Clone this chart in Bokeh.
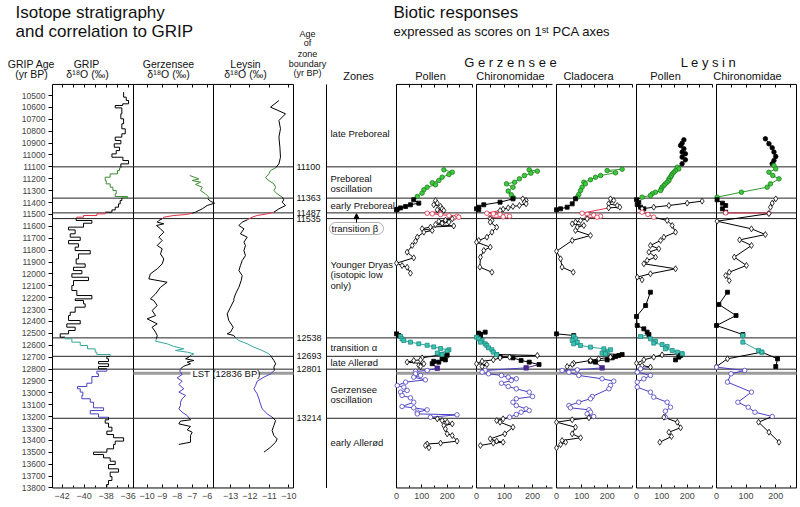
from bokeh.plotting import figure
from bokeh.models import (Range1d, LinearAxis, FixedTicker, BoxAnnotation, Arrow,
                          NormalHead, BasicTickFormatter)
from bokeh.embed import file_html
from bokeh.resources import INLINE
from bokeh.core.properties import value

FONT = "Liberation Sans"

# ---------------------------------------------------------------- data
AGE_TICKS = list(range(10500, 13801, 100))
ZONE_BOUNDS = [11100, 11363, 11487, 11535, 12538, 12693, 12801, 13214]
LST_AGE = 12836
PANEL_TOP_AGE = 10407
PANEL_BOTTOM_AGE = 13800

ZONE_LABELS = ["late Preboreal", "Preboreal", "oscillation", "early Preboreal",
               "Younger Dryas", "(isotopic low", " only)", "transition \u03b1",
               "late Aller\u00f8d", "Gerzensee", "oscillation", "early Aller\u00f8d"]
ZONE_LABEL_AGES = [10817, 11200, 11284, 11427, 11921, 12008, 12098, 12616,
                   12747, 12972, 13058, 13415]
BETA_LABEL = "transition \u03b2"
BETA_AGE = 11616

GRIP_XLIM = (-42.88, -35.52)
GERZ_XLIM = (-10.91, -5.58)
LEYS_XLIM = (-13.875, -9.76)
GP_XLIM = (0, 300)
GC_XLIM = (0, 271)
CL_XLIM = (0, 300)
LP_XLIM = (0, 300)
LC_XLIM = (0, 270)

GRIP_AGE = [10472, 10514, 10542, 10570, 10584, 10604, 10654, 10696, 10738, 10780, 10822,
            10850, 10878, 10906, 10935, 10963, 10991, 11019, 11047, 11075, 11108, 11131,
            11159, 11187, 11215, 11243, 11271, 11299, 11327, 11349, 11361, 11383, 11411,
            11439, 11462, 11481, 11495, 11509, 11523, 11532, 11551, 11574, 11607, 11630,
            11663, 11691, 11719, 11747, 11775, 11804, 11832, 11874, 11916, 11944, 11972,
            11999, 12028, 12056, 12098, 12140, 12182, 12210, 12224, 12252, 12280, 12322,
            12350, 12392, 12420, 12448, 12476, 12504, 12532, 12546, 12574, 12602, 12630,
            12658, 12678, 12695, 12714, 12737, 12756, 12779, 12798, 12818, 12840, 12863,
            12891, 12919, 12947, 12966, 12994, 13022, 13050, 13079, 13107, 13126, 13149,
            13177, 13205, 13227, 13255, 13289, 13322, 13350, 13378, 13406, 13434, 13471,
            13499, 13519, 13547, 13575, 13603, 13639, 13667, 13704, 13737, 13771]
GRIP_D18O = [-36.42, -36.18, -35.97, -36.5, -37.18, -36.58, -36.67, -36.42, -36.58, -36.27,
             -36.58, -37.18, -36.67, -37.27, -36.79, -37.09, -37.48, -36.48, -35.97, -36.67,
             -36.79, -36.97, -37.64, -38.09, -38.0, -37.64, -37.39, -37.09, -37.18, -36.06,
             -36.58, -36.73, -36.88, -37.18, -37.48, -38.09, -38.85, -40.06, -40.67, -40.73,
             -39.3, -40.06, -41.42, -40.82, -41.27, -40.36, -41.42, -40.52, -40.82, -39.45,
             -40.52, -40.73, -39.91, -40.97, -40.21, -41.12, -39.61, -40.97, -41.12, -40.67,
             -39.3, -40.82, -40.06, -39.91, -40.82, -41.27, -41.42, -40.36, -41.58, -40.82,
             -41.42, -42.18, -41.73, -41.12, -40.36, -39.7, -39.0, -38.85, -37.64, -37.94,
             -37.79, -38.7, -37.79, -38.7, -37.94, -38.85, -38.7, -39.3, -39.3, -39.76,
             -40.61, -40.36, -40.12, -40.21, -39.45, -39.15, -39.15, -38.24, -39.45, -38.7,
             -37.79, -38.09, -37.79, -37.48, -37.94, -37.33, -36.42, -37.18, -37.33, -37.94,
             -39.15, -38.24, -37.64, -37.18, -37.79, -36.88, -37.64, -37.48, -37.79, -37.94]

GERZ_AGE = [11173, 11201, 11215, 11229, 11248, 11271, 11299, 11327, 11355, 11369, 11389,
            11405, 11425, 11453, 11481, 11490, 11501, 11509, 11523, 11537, 11551, 11565,
            11579, 11593, 11621, 11649, 11691, 11719, 11761, 11789, 11832, 11874, 11916,
            11958, 11999, 12042, 12070, 12112, 12168, 12210, 12224, 12266, 12308, 12350,
            12378, 12420, 12448, 12490, 12518, 12546, 12566, 12588, 12610, 12630, 12644,
            12658, 12672, 12686, 12700, 12714, 12728, 12742, 12756, 12776, 12798, 12818,
            12846, 12874, 12902, 12930, 12966, 12994, 13022, 13050, 13079, 13107, 13135,
            13163, 13191, 13210, 13227, 13238, 13261, 13283, 13311, 13331, 13359, 13387,
            13415, 13434]
GERZ_D18O = [-7.16, -6.56, -7.0, -6.44, -6.78, -6.33, -6.44, -6.11, -5.89, -5.96, -5.78,
             -5.51, -6.0, -6.33, -6.78, -7.0, -7.44, -8.22, -8.89, -9.0, -9.22, -9.33,
             -8.89, -9.38, -9.11, -8.89, -9.22, -9.0, -9.33, -9.0, -9.11, -8.89, -9.0,
             -9.33, -9.78, -9.89, -8.67, -9.11, -9.44, -9.78, -9.56, -9.33, -9.67, -9.44,
             -10.0, -9.33, -9.67, -9.44, -9.33, -9.38, -9.44, -8.67, -8.22, -7.56, -8.11,
             -7.33, -6.89, -7.11, -7.22, -7.44, -6.89, -7.33, -7.11, -7.56, -7.78, -7.82,
             -7.67, -8.0, -7.67, -7.89, -7.56, -7.89, -7.44, -7.67, -7.78, -7.78, -7.89,
             -7.67, -7.33, -7.22, -7.11, -7.78, -7.89, -7.11, -7.33, -7.0, -7.11, -7.11,
             -7.11, -7.89]

LEYS_AGE = [10542, 10598, 10654, 10710, 10780, 10850, 10935, 11019, 11075, 11108, 11131,
            11159, 11192, 11215, 11243, 11271, 11299, 11327, 11355, 11377, 11397, 11425,
            11453, 11481, 11495, 11509, 11523, 11546, 11565, 11593, 11621, 11663, 11691,
            11733, 11761, 11804, 11846, 11888, 11930, 11972, 12014, 12056, 12112, 12168,
            12210, 12224, 12280, 12336, 12392, 12448, 12490, 12504, 12518, 12538, 12560,
            12588, 12616, 12644, 12672, 12686, 12706, 12728, 12756, 12784, 12812, 12840,
            12868, 12902, 12938, 12966, 13008, 13050, 13093, 13135, 13177, 13205, 13233,
            13275, 13317, 13359, 13387, 13415, 13457, 13499]
LEYS_D18O = [-10.51, -10.94, -10.17, -10.51, -10.43, -10.51, -10.46, -10.43, -10.51, -10.68,
             -10.94, -11.03, -11.2, -11.03, -10.77, -10.68, -10.77, -10.6, -10.34, -10.26,
             -10.34, -10.17, -10.51, -10.77, -11.11, -11.63, -11.89, -12.14, -12.4, -12.57,
             -12.31, -12.49, -12.14, -12.31, -12.23, -12.31, -12.23, -12.4, -12.49, -12.57,
             -12.4, -12.45, -12.57, -12.74, -12.83, -12.83, -13.0, -13.17, -13.09, -12.86,
             -13.0, -13.17, -12.83, -12.74, -12.57, -12.14, -11.8, -11.37, -11.03, -10.94,
             -10.86, -10.77, -10.68, -10.77, -10.74, -10.94, -11.28, -11.63, -11.71, -11.8,
             -11.63, -11.54, -11.46, -11.37, -11.11, -10.86, -10.68, -10.77, -10.86, -10.77,
             -10.6, -10.68, -10.94, -11.28]

# Biotic PCA scores, (age, score) pairs per zone segment
GP_GREEN = [(11125, 187), (11145, 220), (11164, 207), (11187, 180), (11215, 167), (11234, 141),
            (11251, 154), (11271, 121), (11293, 108), (11321, 101), (11349, 82)]
GP_EPB = [(11377, 68), (11405, 88), (11419, 55), (11433, 36), (11445, 16), (11456, 3), (11461, 0)]
GP_EPO = [(11383, 154), (11405, 161), (11419, 147), (11433, 174), (11453, 180), (11461, 161), (11467, 187)]
GP_RED = [(11490, 121), (11495, 141), (11501, 174), (11509, 207), (11515, 239), (11523, 246), (11529, 226)]
GP_YD = [(11537, 220), (11548, 193), (11557, 167), (11565, 207), (11575, 180), (11585, 154),
         (11597, 226), (11607, 134), (11620, 101), (11635, 141), (11649, 108), (11691, 82),
         (11725, 75), (11761, 62), (11817, 42), (11865, 68), (11910, 0), (11930, 22),
         (11944, 42), (11994, 55)]
GP_YA = [(12504, 0), (12518, 9)]
GP_TEAL = [(12526, 16), (12546, 22), (12560, 29), (12574, 55), (12588, 88), (12600, 121),
           (12614, 147), (12627, 174), (12638, 207), (12650, 200), (12666, 161), (12678, 180)]
GP_LAF = [(12684, 200), (12697, 187), (12714, 180), (12723, 193), (12735, 147), (12742, 167), (12755, 141)]
GP_LAO = [(12706, 101), (12723, 95), (12728, 68), (12742, 42), (12756, 108), (12770, 88), (12779, 95)]
GP_PUR = [(12793, 161)]
GP_BLUE = [(12812, 121), (12820, 75), (12840, 75), (12854, 95), (12868, 68), (12891, 114),
           (12910, 36), (12938, 3), (12952, 29), (12980, 42), (12994, 16), (13022, 22),
           (13042, 55), (13079, 68), (13115, 22), (13126, 68), (13143, 121), (13163, 82),
           (13177, 82), (13185, 239), (13205, 134)]
GP_EA = [(13219, 161), (13233, 180), (13247, 200), (13261, 220), (13275, 187), (13303, 193),
         (13345, 200), (13359, 220), (13406, 239), (13423, 174), (13430, 121), (13443, 114), (13462, 128)]

GC_GREEN = [(11125, 188), (11136, 217), (11153, 194), (11173, 171), (11201, 153), (11229, 136),
            (11243, 107), (11271, 130), (11304, 113), (11335, 124), (11360, 132)]
GC_EPB = [(11369, 130), (11397, 84), (11419, 26), (11439, 8), (11453, 0), (11461, 8)]
GC_EPO = [(11369, 165), (11383, 177), (11397, 171), (11411, 177), (11425, 153), (11433, 130),
          (11445, 113), (11456, 95), (11467, 84)]
GC_RED = [(11490, 37), (11495, 60), (11501, 84), (11509, 107), (11515, 118), (11520, 95), (11527, 49)]
GC_YD = [(11537, 49), (11551, 55), (11565, 49), (11607, 72), (11649, 55), (11691, 37), (11719, 8),
         (11733, 0), (11775, 49), (11803, 26), (11859, 14), (11943, 12), (11986, 55)]
GC_YA = [(12490, 31), (12498, 8), (12510, 14), (12518, 14)]
GC_TEAL = [(12532, 0), (12546, 8), (12560, 20), (12574, 14), (12588, 31), (12602, 37), (12622, 43),
           (12638, 55), (12658, 60), (12678, 72)]
GC_LAF = [(12695, 84), (12706, 130), (12728, 159), (12742, 188), (12762, 223)]
GC_LAO = [(12686, 217), (12700, 118), (12706, 84), (12723, 60), (12734, 20), (12756, 0), (12762, 37), (12779, 20)]
GC_PUR = [(12790, 177)]
GC_BLUE = [(12812, 31), (12826, 20), (12840, 43), (12854, 89), (12868, 113), (12882, 142),
           (12896, 124), (12919, 89), (12947, 113), (12966, 142), (12994, 188), (13031, 200),
           (13050, 142), (13079, 130), (13107, 142), (13135, 177), (13149, 188), (13163, 159),
           (13182, 142), (13205, 118)]
GC_EA = [(13219, 95), (13233, 72), (13247, 84), (13289, 130), (13345, 101), (13387, 49),
         (13406, 72), (13415, 95), (13423, 60), (13443, 14)]

CL_GREEN = [(11120, 259), (11131, 200), (11150, 233), (11173, 174), (11187, 154), (11209, 134),
            (11229, 108), (11243, 114), (11271, 101), (11299, 95), (11332, 88), (11355, 82)]
CL_EPB = [(11369, 75), (11411, 62), (11439, 42), (11453, 16), (11461, 0)]
CL_EPO = [(11369, 213), (11383, 226), (11411, 206), (11425, 240), (11439, 250), (11445, 206)]
CL_RED = [(11490, 101), (11498, 121), (11506, 147), (11515, 174), (11523, 160), (11530, 121)]
CL_YD = [(11537, 121), (11551, 95), (11565, 75), (11579, 62), (11593, 108), (11607, 82),
         (11635, 75), (11677, 134), (11719, 62), (11809, 0), (11873, 16), (11943, 22), (11986, 66)]
CL_YA = [(12504, 0), (12518, 68)]
CL_TEAL = [(12526, 68), (12546, 75), (12560, 62), (12574, 82), (12588, 68), (12602, 95),
           (12616, 134), (12630, 187), (12638, 213), (12658, 200), (12666, 180), (12672, 193)]
CL_LAF = [(12678, 259), (12686, 246), (12695, 233), (12706, 220), (12723, 200), (12734, 134), (12742, 154)]
CL_LAO = [(12700, 213), (12714, 167), (12728, 134), (12751, 68), (12762, 62), (12779, 42)]
CL_PUR = [(12790, 180)]
CL_BLUE = [(12807, 82), (12812, 22), (12826, 49), (12854, 88), (12882, 180), (12902, 226),
           (12938, 213), (12966, 207), (13031, 141), (13050, 134), (13079, 88), (13107, 49),
           (13126, 55), (13143, 128), (13163, 134), (13177, 121), (13199, 147)]
CL_EA = [(13210, 128), (13227, 62), (13247, 0), (13289, 75), (13345, 62), (13378, 95),
         (13401, 22), (13415, 36), (13435, 16), (13463, 0)]

LP_LPB = [(10873, 187), (10901, 180), (10920, 174), (10948, 187), (10976, 180), (10990, 193),
          (11018, 180), (11041, 193), (11074, 180)]
LP_GREEN = [(11103, 161), (11117, 167), (11131, 154), (11145, 147), (11159, 141), (11173, 138),
            (11187, 134), (11201, 128), (11215, 128), (11229, 121), (11243, 114), (11257, 108),
            (11271, 101), (11285, 98), (11299, 95), (11313, 75), (11327, 62), (11341, 55), (11355, 22)]
LP_EPB = [(11377, 0), (11397, 9), (11417, 3), (11439, 16), (11453, 29)]
LP_EPO = [(11388, 259), (11405, 200), (11425, 128), (11439, 68), (11453, 22)]
LP_RED = [(11481, 22), (11500, 45), (11523, 68)]
LP_YD = [(11551, 121), (11593, 141), (11649, 154), (11691, 108), (11719, 95), (11761, 55),
         (11789, 88), (11817, 49), (11859, 75), (11887, 42), (11915, 29), (11957, 154),
         (11999, 55), (12027, 3), (12050, 22)]
LP_LYD = [(12154, 55), (12266, 36), (12358, 0), (12434, 3), (12462, 29), (12490, 42), (12510, 49)]
LP_TEAL = [(12526, 16), (12546, 55), (12566, 75), (12582, 68), (12594, 101), (12610, 121),
           (12630, 114), (12644, 141), (12658, 161), (12672, 180)]
LP_LAF = [(12686, 174), (12700, 167), (12723, 154)]
LP_LAO = [(12681, 101), (12700, 68), (12723, 29), (12751, 0), (12770, 22), (12784, 55)]
LP_BLUE = [(12798, 16), (12826, 3), (12854, 55), (12882, 29), (12910, 3), (12952, 3), (12994, 55),
           (13036, 68), (13079, 121), (13121, 134), (13154, 114), (13205, 114)]
LP_EA = [(13205, 108), (13247, 161), (13294, 174), (13331, 128), (13367, 138), (13415, 92)]

LC_LPB = [(10864, 165), (10906, 177), (10940, 188), (10976, 194), (11013, 200), (11046, 194), (11074, 188)]
LC_GREEN = [(11089, 194), (11117, 200), (11145, 177), (11173, 190), (11201, 211), (11243, 182),
            (11271, 171), (11313, 84), (11355, 2)]
LC_EPB = [(11377, 2), (11405, 20), (11425, 31), (11453, 20), (11481, 31)]
LC_EPO = [(11369, 200), (11405, 188), (11439, 182)]
LC_RED = [(11487, 31), (11489, 177)]
LC_YD = [(11493, 177), (11557, 2), (11621, 118), (11669, 165), (11714, 78), (11761, 118),
         (11859, 60), (11929, 101), (11986, 43), (12014, 31), (12056, 43)]
LC_LYD = [(12154, 37), (12257, 8), (12350, 66), (12434, 0), (12510, 89)]
LC_TEAL = [(12518, 89), (12574, 89), (12644, 142), (12658, 153)]
LC_LAF = [(12714, 206), (12779, 200)]
LC_LAO = [(12714, 37), (12779, 0)]
LC_BLUE = [(12784, 0), (12812, 95), (12840, 49), (12910, 37), (12994, 118), (13079, 72),
           (13121, 107), (13163, 130), (13199, 188)]
LC_EA = [(13247, 142), (13331, 177), (13415, 211)]

# ---------------------------------------------------------------- styles / layout
GREEN_L, RED_L, TEAL_L, BLUE_L = "#3c8c34", "#e0304a", "#35a89c", "#4a40c4"
STY = {
    "green": dict(line="#2f9a2f", marker="circle", size=4.5, fill="#3ccc3c", edge="#1f7a1f"),
    "blk": dict(line="black", marker="square", size=4, fill="black", edge="black"),
    "blkc": dict(line="black", marker="circle", size=4.5, fill="black", edge="black"),
    "open": dict(line="black", marker="diamond", size=6, fill="white", edge="black"),
    "red": dict(line=RED_L, marker="circle", size=4.5, fill="white", edge=RED_L),
    "teal": dict(line=TEAL_L, marker="square", size=4, fill="#3cc4b4", edge="#1f8a80"),
    "blue": dict(line=BLUE_L, marker="circle", size=4.5, fill="white", edge=BLUE_L),
    "purple": dict(line="#4a2a90", marker="square", size=4.5, fill="#4a2a90", edge="#4a2a90"),
}

W, H = 800, 507
PX_PER_YR = 0.11893
Y_10500 = 95.0


def age_at(py):
    return 10500 + (py - Y_10500) / PX_PER_YR


X_LEFT, X_RIGHT = 0, W
PANEL_PX = {"grip": (52, 133), "gerz": (133, 213), "leys": (213, 293),
            "gp": (396, 472), "gc": (476, 552), "cl": (556, 632),
            "lp": (636, 712), "lc": (716, 796)}
XLIM = {"grip": GRIP_XLIM, "gerz": GERZ_XLIM, "leys": LEYS_XLIM, "gp": GP_XLIM,
        "gc": GC_XLIM, "cl": CL_XLIM, "lp": LP_XLIM, "lc": LC_XLIM}

p = figure(width=W, height=H, x_range=Range1d(X_LEFT, X_RIGHT),
           y_range=Range1d(age_at(H), age_at(0)),
           x_axis_type=None, y_axis_type=None, toolbar_location=None,
           output_backend="svg", min_border=0)
p.outline_line_color = None
p.background_fill_color = "white"
p.border_fill_color = "white"

xr = {}
for name, (px0, px1) in PANEL_PX.items():
    d0, d1 = XLIM[name]
    k = (d1 - d0) / (px1 - px0)
    xr[name] = Range1d(d0 + (X_LEFT - px0) * k, d0 + (X_RIGHT - px0) * k)
p.extra_x_ranges = xr
p.extra_y_ranges = {"px": Range1d(H, 0)}


def zone_color(a):
    if 11100 <= a < 11363:
        return GREEN_L
    if 11487 <= a < 11535:
        return RED_L
    if 12538 <= a < 12693:
        return TEAL_L
    if 12801 <= a < 13214:
        return BLUE_L
    return "black"


# ---- axes
age_axis = LinearAxis(fixed_location=52, ticker=FixedTicker(ticks=AGE_TICKS),
                      formatter=BasicTickFormatter(use_scientific=False),
                      axis_line_color=None, major_tick_out=4, major_tick_in=0,
                      minor_tick_out=0, minor_tick_in=0,
                      major_label_text_font=FONT, major_label_text_font_size="8.5px",
                      major_label_standoff=3)
p.add_layout(age_axis, "left")

AX_TICKS = {
    "grip": ([-42, -40, -38, -36], [-41, -39, -37]),
    "gerz": ([-10, -9, -8, -7, -6], []),
    "leys": ([-13, -12, -11, -10], []),
    "gp": ([0, 100, 200], [50, 150, 250, 300]),
    "gc": ([0, 100, 200], [50, 150, 250]),
    "cl": ([0, 100, 200], [50, 150, 250, 300]),
    "lp": ([0, 100, 200], [50, 150, 250, 300]),
    "lc": ([0, 100, 200], [50, 150, 250]),
}
for name, (major, minor) in AX_TICKS.items():
    b = LinearAxis(x_range_name=name, fixed_location=PANEL_BOTTOM_AGE,
                   ticker=FixedTicker(ticks=major, minor_ticks=minor),
                   axis_line_color=None, major_tick_in=3, major_tick_out=0,
                   minor_tick_in=2, minor_tick_out=0,
                   major_label_text_font=FONT, major_label_text_font_size="9px",
                   major_label_standoff=5)
    p.add_layout(b, "below")
    t = LinearAxis(x_range_name=name, fixed_location=PANEL_TOP_AGE,
                   ticker=FixedTicker(ticks=major, minor_ticks=minor),
                   axis_line_color=None, major_tick_in=3, major_tick_out=0,
                   minor_tick_in=3, minor_tick_out=0,
                   major_label_overrides={m: "" for m in major},
                   major_label_text_font_size="1px")
    p.add_layout(t, "above")

# ---- panel frames
for name in ["grip", "gerz", "leys"]:
    d0, d1 = XLIM[name]
    p.quad(left=[d0], right=[d1], top=[PANEL_TOP_AGE], bottom=[PANEL_BOTTOM_AGE],
           x_range_name=name, fill_color=None, line_color="black", line_width=1)
for name in ["gp", "gc", "cl", "lp", "lc"]:
    d0, d1 = XLIM[name]
    p.segment(x0=[d0, d0, d0], y0=[PANEL_TOP_AGE, PANEL_TOP_AGE, PANEL_BOTTOM_AGE],
              x1=[d0, d1, d1], y1=[PANEL_BOTTOM_AGE, PANEL_TOP_AGE, PANEL_BOTTOM_AGE],
              x_range_name=name, line_color="black", line_width=1)
p.segment(x0=[LC_XLIM[1]], y0=[PANEL_TOP_AGE], x1=[LC_XLIM[1]], y1=[PANEL_BOTTOM_AGE],
          x_range_name="lc", line_color="black", line_width=1)
# zones column separator
p.segment(x0=[326], y0=[PANEL_TOP_AGE], x1=[326], y1=[PANEL_BOTTOM_AGE],
          line_color="black", line_width=1)

# ---- zone boundary lines
n = len(ZONE_BOUNDS)
p.segment(x0=[52] * n, x1=[293] * n, y0=ZONE_BOUNDS, y1=ZONE_BOUNDS,
          line_color="#222222", line_width=1)
p.segment(x0=[326] * n, x1=[796] * n, y0=ZONE_BOUNDS, y1=ZONE_BOUNDS,
          line_color="#222222", line_width=1)
# LST ash layer
p.segment(x0=[133, 258, 396], x1=[190, 293, 796], y0=[LST_AGE] * 3, y1=[LST_AGE] * 3,
          line_color="#9c9c9c", line_width=3)
p.text(x=[192], y=[LST_AGE], text=["LST (12836 BP)"], text_font=value(FONT),
       text_font_size="9.5px", text_baseline="middle", text_align="left", text_color="#111111")

# ---- GRIP step curve
gx, gy, gc = [], [], []
ages_ext = GRIP_AGE + [GRIP_AGE[-1] + 20]
for i in range(len(GRIP_AGE)):
    a0, a1 = ages_ext[i], ages_ext[i + 1]
    v = GRIP_D18O[i]
    gx.append([v, v]); gy.append([a0, a1]); gc.append(zone_color((a0 + a1) / 2))
    if i + 1 < len(GRIP_AGE):
        gx.append([v, GRIP_D18O[i + 1]]); gy.append([a1, a1]); gc.append(zone_color(a1 - 1))
p.multi_line(xs=gx, ys=gy, line_color=gc, line_width=1, x_range_name="grip")


def zoned_line(ages, vals, rn):
    xs, ys, cs = [], [], []
    for i in range(len(ages) - 1):
        xs.append([vals[i], vals[i + 1]]); ys.append([ages[i], ages[i + 1]])
        cs.append(zone_color((ages[i] + ages[i + 1]) / 2))
    p.multi_line(xs=xs, ys=ys, line_color=cs, line_width=1, x_range_name=rn)


zoned_line(GERZ_AGE, GERZ_D18O, "gerz")
zoned_line(LEYS_AGE, LEYS_D18O, "leys")

# ---- biotic panels
CHAINS = {
    "gp": [[("green", GP_GREEN), ("blk", GP_EPB)], [("open", GP_EPO), ("red", GP_RED), ("open", GP_YD)],
           [("blk", GP_YA), ("teal", GP_TEAL), ("blk", GP_LAF), ("purple", GP_PUR), ("blue", GP_BLUE), ("open", GP_EA)],
           [("teal", GP_TEAL[-1:]), ("open", GP_LAO)]],
    "gc": [[("green", GC_GREEN), ("blk", GC_EPB)], [("open", GC_EPO), ("red", GC_RED), ("open", GC_YD)],
           [("blk", GC_YA), ("teal", GC_TEAL), ("blk", GC_LAF), ("purple", GC_PUR), ("blue", GC_BLUE), ("open", GC_EA)],
           [("teal", GC_TEAL[-1:]), ("open", GC_LAO)]],
    "cl": [[("green", CL_GREEN), ("blk", CL_EPB)], [("open", CL_EPO), ("red", CL_RED), ("open", CL_YD)],
           [("blk", CL_YA), ("teal", CL_TEAL), ("blk", CL_LAF), ("purple", CL_PUR), ("blue", CL_BLUE), ("open", CL_EA)],
           [("teal", CL_TEAL[-1:]), ("open", CL_LAO)]],
    "lp": [[("blkc", LP_LPB), ("green", LP_GREEN), ("blk", LP_EPB)], [("open", LP_EPO), ("red", LP_RED), ("open", LP_YD)],
           [("blk", LP_LYD), ("teal", LP_TEAL), ("blk", LP_LAF)],
           [("teal", LP_TEAL[-1:]), ("open", LP_LAO), ("blue", LP_BLUE), ("open", LP_EA)]],
    "lc": [[("blkc", LC_LPB), ("green", LC_GREEN), ("blk", LC_EPB), ("red", LC_RED), ("open", LC_YD)],
           [("open", LC_EPO)],
           [("blk", LC_LYD), ("teal", LC_TEAL), ("blk", LC_LAF)],
           [("teal", LC_TEAL[-1:]), ("open", LC_LAO), ("blue", LC_BLUE), ("open", LC_EA)]],
}

markers = []
for rn, chains in CHAINS.items():
    for chain in chains:
        prev = None
        for style, seg in chain:
            st = STY[style]
            a = [s[0] for s in seg]
            v = [s[1] for s in seg]
            if prev is not None:
                p.line(x=[prev[1], v[0]], y=[prev[0], a[0]], x_range_name=rn,
                       line_color=st["line"], line_width=1)
            if len(seg) > 1:
                p.line(x=v, y=a, x_range_name=rn, line_color=st["line"], line_width=1)
            prev = seg[-1]
            markers.append((rn, st, a, v))
for rn, st, a, v in markers:
    p.scatter(x=v, y=a, x_range_name=rn, marker=st["marker"], size=st["size"],
              fill_color=st["fill"], line_color=st["edge"], line_width=0.8)

# ---- zone boundary ages and zone names
p.text(x=[296] * n, y=ZONE_BOUNDS, text=[str(b) for b in ZONE_BOUNDS], text_font=value(FONT),
       text_font_size="9px", text_baseline="middle", text_align="left", text_color="#111111")
p.text(x=[330] * len(ZONE_LABELS), y=ZONE_LABEL_AGES, text=ZONE_LABELS, text_font=value(FONT),
       text_font_size="9.5px", text_baseline="middle", text_align="left", text_color="#111111")
p.text(x=[331], y=[BETA_AGE], text=[BETA_LABEL], text_font=value(FONT),
       text_font_size="9.5px", text_baseline="middle", text_align="left", text_color="#111111")
p.add_layout(BoxAnnotation(left=329, right=383, top=age_at(222.0), bottom=age_at(234.0),
                           fill_alpha=0, line_color="black", line_width=1, border_radius=6))
p.add_layout(Arrow(end=NormalHead(size=5, fill_color="black", line_color="black"),
                   x_start=356, y_start=age_at(222.0), x_end=356, y_end=age_at(213.2),
                   line_color="black", line_width=1))

# ---- header texts (image pixel coordinates)
def htext(x, y, s, size, align="center"):
    p.text(x=[x], y=[y], text=[s], text_font=value(FONT), text_font_size=size,
           text_align=align, text_baseline="middle", y_range_name="px", text_color="#111111")


htext(15, 12, "Isotope stratigraphy", "17px", "left")
htext(15, 31, "and correlation to GRIP", "17px", "left")
htext(393, 12, "Biotic responses", "17px", "left")
htext(393, 31, "expressed as scores on 1\u02e2\u1d57 PCA axes", "13px", "left")
htext(31, 63, "GRIP Age", "10.5px")
htext(31, 73.5, "(yr BP)", "10.5px")
htext(86, 63, "GRIP", "10.5px")
htext(87, 73.5, "\u03b4\u00b9\u2078O (\u2030)", "10.5px")
htext(168, 63, "Gerzensee", "10.5px")
htext(168, 73.5, "\u03b4\u00b9\u2078O (\u2030)", "10.5px")
htext(245, 63, "Leysin", "10.5px")
htext(245, 73.5, "\u03b4\u00b9\u2078O (\u2030)", "10.5px")
for yy, s in zip([33, 42.5, 53, 63, 72.5], ["Age", "of", "zone", "boundary", "(yr BP)"]):
    htext(307, yy, s, "9px")
htext(358, 75, "Zones", "11px")
htext(510, 62, "G e r z e n s e e", "13px")
htext(708, 62, "L e y s i n", "13px")
for xx, s in zip([430, 510, 588, 665, 747],
                 ["Pollen", "Chironomidae", "Cladocera", "Pollen", "Chironomidae"]):
    htext(xx, 75, s, "11px")

open("out.html", "w").write(file_html(p, INLINE))
